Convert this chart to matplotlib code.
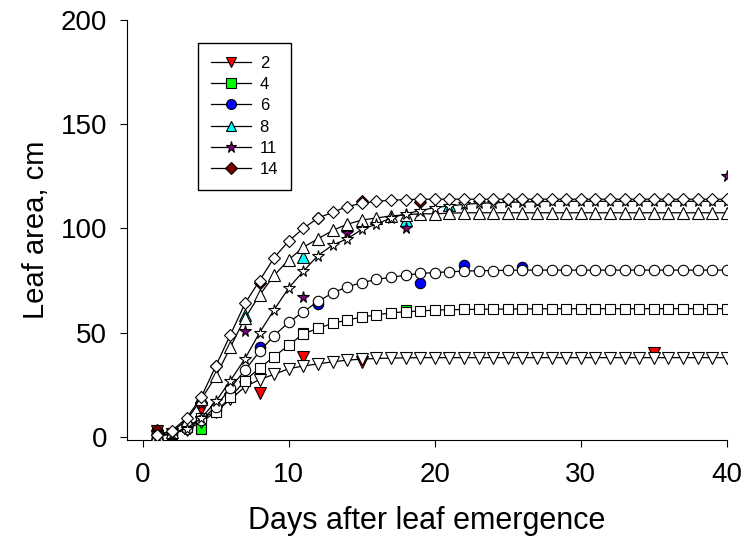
import matplotlib
matplotlib.use('Agg')
import matplotlib.pyplot as plt
import numpy as np

plt.rcParams['font.family'] = ['Liberation Sans', 'DejaVu Sans']

# fitted curves, one value per day (days 1..40)
days = np.arange(1, 41)
fit_2 = [0.5, 1.5, 3.5, 7, 12, 18, 24, 27.5, 30, 32.7, 34, 35, 36, 36.8, 37.3, 37.6, 37.8,
         37.9, 38, 38, 38, 38, 38, 38, 38, 38, 38, 38, 38, 38, 38, 38, 38, 38, 38, 38, 38, 38, 38, 38]
fit_4 = [0.5, 1.5, 4.5, 9, 12, 19, 27, 33, 38.5, 44, 49.5, 52, 54.5, 56, 57.5, 58.5, 59.5, 60,
         60.4, 60.8, 61, 61.1, 61.2, 61.3, 61.3, 61.4, 61.4, 61.5, 61.5, 61.5, 61.5, 61.5, 61.5,
         61.5, 61.5, 61.5, 61.5, 61.5, 61.5, 61.5]
fit_6 = [0.5, 1.5, 4, 8, 14.5, 23.5, 32, 41, 48.6, 55, 60, 65, 69, 72, 74, 75.5, 76.6, 77.5,
         78.4, 78.8, 79.2, 79.5, 79.7, 79.8, 79.9, 80, 80, 80, 80, 80, 80, 80, 80, 80, 80, 80,
         80, 80, 80, 80]
fit_8 = [1, 2.5, 8, 18, 29, 43, 57, 68, 77.5, 85, 91, 95, 99, 102, 104, 105, 106, 106.5, 107,
         107, 107.3, 107.5, 107.5, 107.5, 107.5, 107.5, 107.5, 107.5, 107.5, 107.5, 107.5, 107.5,
         107.5, 107.5, 107.5, 107.5, 107.5, 107.5, 107.5, 107.5]
fit_11 = [0.5, 1.5, 4, 9, 17, 27, 37.5, 50, 61, 71.5, 79.5, 87, 92, 95, 99.5, 102, 105, 107,
          108.5, 110, 110.8, 111.5, 112, 112.3, 112.5, 112.7, 112.8, 113, 113, 113, 113, 113,
          113, 113, 113, 113, 113, 113, 113, 113]
fit_14 = [1, 3, 9, 19, 34, 49, 64, 75, 86, 94, 100, 105, 107.7, 110.5, 112, 113, 113.5, 113.8,
          114, 114, 114, 114, 114, 114, 114, 114, 114, 114, 114, 114, 114, 114, 114, 114, 114,
          114, 114, 114, 114, 114]

# measured leaf area
obs_days_2 = [1, 4, 8, 11, 15, 35]
obs_2 = [3, 13.5, 21, 38.5, 36, 40]
obs_days_4 = [1, 4, 11, 18]
obs_4 = [2, 4, 50, 61]
obs_days_6 = [1, 5, 8, 12, 19, 22, 26]
obs_6 = [2, 13, 43, 63.5, 74, 82.5, 81.5]
obs_days_8 = [1, 4, 7, 11, 18, 21]
obs_8 = [2, 19, 58.5, 86.5, 104, 111]
obs_days_11 = [1, 4, 7, 11, 14, 18, 40]
obs_11 = [2, 16, 50.6, 67.3, 97.6, 100, 125]
obs_days_14 = [1, 5, 8, 12, 15, 19]
obs_14 = [3.5, 34, 74, 105, 113, 112.5]

labels = ['2', '4', '6', '8', '11', '14']
markers = ['v', 's', 'o', '^', '*', 'D']
colors = ['#ff0000', '#00ff00', '#0000ff', '#00ffff', '#800080', '#800000']
fits = [fit_2, fit_4, fit_6, fit_8, fit_11, fit_14]
obs_days = [obs_days_2, obs_days_4, obs_days_6, obs_days_8, obs_days_11, obs_days_14]
obs = [obs_2, obs_4, obs_6, obs_8, obs_11, obs_14]
sizes = [8, 7, 7.5, 8, 8.5, 6.5]

fig = plt.figure(figsize=(7.5, 5.39), dpi=100)
ax = fig.add_axes([0.169, 0.1837, 0.8, 0.7793])

handles = []
for lab, m, c, f, od, o, ms in zip(labels, markers, colors, fits, obs_days, obs, sizes):
    ax.plot(od, o, linestyle='none', marker=m, ms=ms, mfc=c, mec='black', mew=0.8, zorder=2)
    ax.plot(days, f, color='black', lw=0.9, marker=m, ms=ms, mfc='white', mec='black',
            mew=0.8, zorder=3)
    h, = ax.plot([], [], color='black', lw=0.9, marker=m, ms=ms * 0.95, mfc=c, mec='black',
                 mew=0.8)
    handles.append(h)

ax.set_xlim(-1.1, 40)
ax.set_ylim(-1.5, 200)
ax.set_xticks([0, 10, 20, 30, 40])
ax.set_yticks([0, 50, 100, 150, 200])
ax.spines['top'].set_visible(False)
ax.spines['right'].set_visible(False)
ax.tick_params(direction='out', length=5, width=0.8, labelsize=20, pad=9)
ax.tick_params(axis='x', pad=11)
ax.set_xlabel('Days after leaf emergence', fontsize=22, labelpad=13)
ax.set_ylabel('Leaf area, cm', fontsize=21, labelpad=8)

leg = ax.legend(handles, labels, loc='upper left', bbox_to_anchor=(198 / 750, 1 - 43 / 539),
                bbox_transform=fig.transFigure, borderaxespad=0, fontsize=12,
                handlelength=2.4, handletextpad=0.55, labelspacing=0.38, borderpad=0.75,
                fancybox=False, framealpha=1, edgecolor='black')
leg.get_frame().set_linewidth(1.0)

fig.savefig('out.png', dpi=100)
